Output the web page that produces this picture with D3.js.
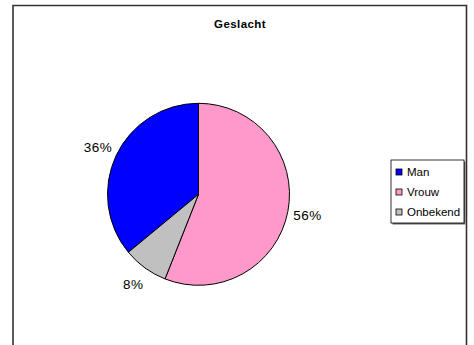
<!DOCTYPE html>
<html>
<head>
<meta charset="utf-8">
<script src="https://cdn.jsdelivr.net/npm/d3@7"></script>
<style>
  html, body { margin: 0; padding: 0; background: #fff; }
  svg { display: block; }
  text { font-family: Arial, "Liberation Sans", sans-serif; fill: #000; }
</style>
</head>
<body>
<svg id="chart" width="474" height="345"></svg>
<script>
// Gender breakdown (percent)
const categories = ["Man", "Vrouw", "Onbekend"];
const values = [36, 56, 8];
const colors = ["#0000FF", "#FF99CC", "#C0C0C0"];
const title = "Geslacht";

const svg = d3.select("#chart");

// Chart-area frame (bottom edge runs off the page)
svg.append("path")
  .attr("d", "M13,350 V5.5 H466.5 V350")
  .attr("fill", "none")
  .attr("stroke", "#333")
  .attr("stroke-width", 1.6);

svg.append("text")
  .attr("x", 240)
  .attr("y", 28)
  .attr("text-anchor", "middle")
  .attr("font-size", "11.5px")
  .attr("font-weight", "bold")
  .attr("letter-spacing", "0.4px")
  .text(title);

// Pie: "Vrouw" starts at 12 o'clock, slices run clockwise
const cx = 198.5, cy = 194.3, r = 91;
const total = d3.sum(values);
const startAngle = -2 * Math.PI * values[0] / total;

const pie = d3.pie()
  .sort(null)
  .value(d => d)
  .startAngle(startAngle)
  .endAngle(startAngle + 2 * Math.PI);

const arcs = pie(values);
const arc = d3.arc().innerRadius(0).outerRadius(r);
const labelArc = d3.arc().innerRadius(111).outerRadius(111);

const g = svg.append("g").attr("transform", `translate(${cx},${cy})`);

g.selectAll("path.slice")
  .data(arcs)
  .join("path")
  .attr("class", "slice")
  .attr("d", arc)
  .attr("fill", (d, i) => colors[i])
  .attr("stroke", "#000")
  .attr("stroke-width", 1);

g.selectAll("text.pct")
  .data(arcs)
  .join("text")
  .attr("class", "pct")
  .attr("transform", d => `translate(${labelArc.centroid(d)})`)
  .attr("text-anchor", "middle")
  .attr("dy", "0.36em")
  .attr("font-size", "13.5px")
  .attr("letter-spacing", "0.5px")
  .text(d => `${d.data}%`);

// Legend with drop shadow
const lx = 391, ly = 160, lw = 73, lh = 63;
svg.append("rect")
  .attr("x", lx + 1.5).attr("y", ly + 1.5)
  .attr("width", lw).attr("height", lh)
  .attr("fill", "#666");
svg.append("rect")
  .attr("x", lx).attr("y", ly)
  .attr("width", lw).attr("height", lh)
  .attr("fill", "#fff")
  .attr("stroke", "#000")
  .attr("stroke-width", 0.8);

const legendY = d3.scalePoint().domain(categories).range([172, 212]);

const items = svg.selectAll("g.item")
  .data(categories)
  .join("g")
  .attr("class", "item")
  .attr("transform", d => `translate(${lx + 5},${legendY(d)})`);

items.append("rect")
  .attr("x", 0).attr("y", -3)
  .attr("width", 6).attr("height", 6)
  .attr("fill", (d, i) => colors[i])
  .attr("stroke", "#000")
  .attr("stroke-width", 0.8);

items.append("text")
  .attr("x", 11)
  .attr("dy", "0.36em")
  .attr("font-size", "11.5px")
  .text(d => d);
</script>
</body>
</html>
